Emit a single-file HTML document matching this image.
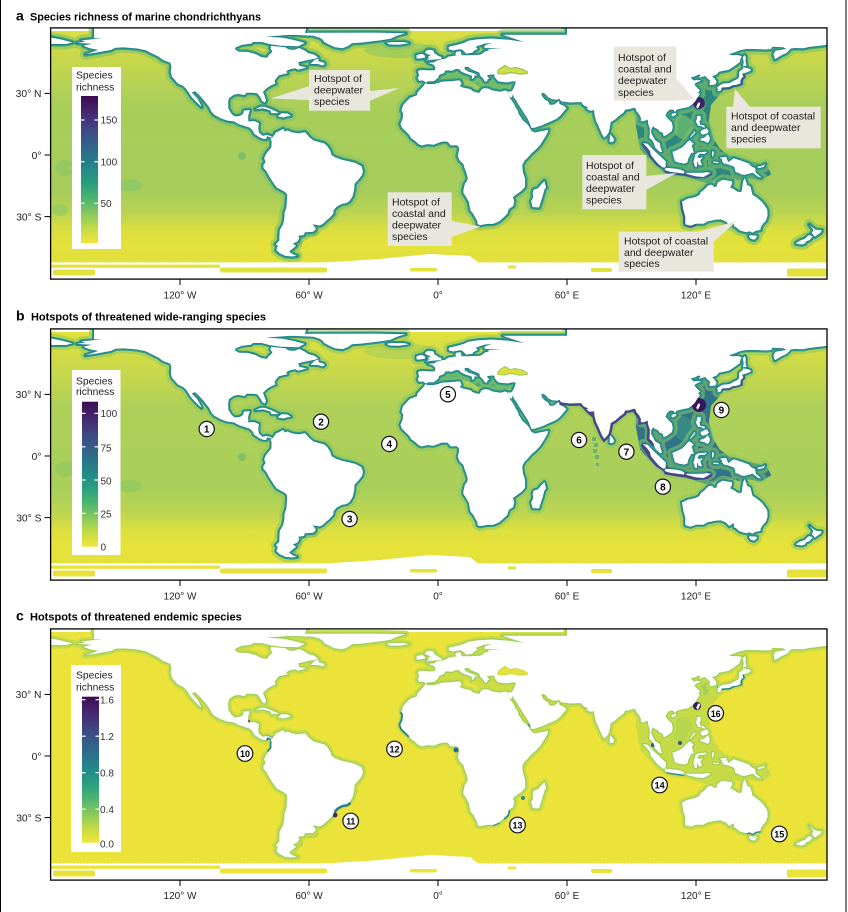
<!DOCTYPE html>
<html><head><meta charset="utf-8"><style>
html,body{margin:0;padding:0;background:#fff}
svg{display:block}
text{font-family:"Liberation Sans",Arial,sans-serif}
</style></head><body>
<svg width="848" height="912" viewBox="0 0 848 912" xmlns="http://www.w3.org/2000/svg">
<defs>
<clipPath id="cp"><rect x="51" y="28.3" width="775.7" height="250.5"/></clipPath>
<linearGradient id="gA" gradientUnits="userSpaceOnUse" x1="0" y1="31" x2="0" y2="263">
<stop offset="0" stop-color="#dcdf40"/><stop offset="0.082" stop-color="#cdd948"/><stop offset="0.211" stop-color="#b9d353"/><stop offset="0.319" stop-color="#a9ce5a"/><stop offset="0.685" stop-color="#a5cd5c"/><stop offset="0.78" stop-color="#b8d352"/><stop offset="0.849" stop-color="#d8de41"/><stop offset="0.922" stop-color="#e4e13b"/><stop offset="1" stop-color="#e1e03d"/>
</linearGradient>
<linearGradient id="gB" gradientUnits="userSpaceOnUse" x1="0" y1="31" x2="0" y2="263">
<stop offset="0" stop-color="#e2e13c"/><stop offset="0.082" stop-color="#d5dc44"/><stop offset="0.211" stop-color="#c2d64e"/><stop offset="0.319" stop-color="#aed058"/><stop offset="0.685" stop-color="#a9cf5a"/><stop offset="0.78" stop-color="#bdd551"/><stop offset="0.849" stop-color="#dbdf40"/><stop offset="0.922" stop-color="#e6e23a"/><stop offset="1" stop-color="#e4e13b"/>
</linearGradient>
<linearGradient id="vir" x1="0" y1="0" x2="0" y2="1">
<stop offset="0" stop-color="#3d0b52"/><stop offset="0.1" stop-color="#46246f"/><stop offset="0.2" stop-color="#41417f"/><stop offset="0.3" stop-color="#375a88"/><stop offset="0.4" stop-color="#2b728a"/><stop offset="0.5" stop-color="#228a88"/><stop offset="0.6" stop-color="#2aa07e"/><stop offset="0.7" stop-color="#4db56e"/><stop offset="0.8" stop-color="#86c95d"/><stop offset="0.9" stop-color="#c2db46"/><stop offset="1" stop-color="#f2e43a"/>
</linearGradient>
<pattern id="scal" x="50" y="261" width="3.4" height="5" patternUnits="userSpaceOnUse"><circle cx="1.7" cy="2.5" r="1.4" fill="#fff"/></pattern>

<g id="land" transform="translate(438,155) scale(2.15,1)">
<path vector-effect="non-scaling-stroke" d="M40,-113 L33,-115.2 L25,-116.5 L18,-115.6 L14,-114.2 L12,-112.1 L9,-110.3 L5,-108.3 L5,-105.6 L7,-104.5 L10.5,-105.9 L11.5,-104.7 L12.5,-102.7 L13,-101.4 L16,-102.1 L16.5,-103.9 L18.5,-106.1 L17.5,-108.3 L21.5,-111.2 L25,-112.1 L22,-109.8 L21.3,-107.8 L22.5,-106.9 L29.5,-106.7 L23.5,-105.9 L23.5,-104.5 L21.5,-103.3 L21,-101.9 L19.5,-100.3 L14,-99.7 L11,-99.7 L10.5,-103.9 L8.5,-103.3 L8,-100.9 L8.7,-99.6 L7,-99.1 L4.8,-98.4 L3.5,-96.4 L1.8,-95.7 L-1,-94 L-1.7,-92.6 L-4.6,-92.1 L-2.2,-90.4 L-1.2,-87.9 L-1.5,-84.8 L-4,-84.6 L-8,-85.1 L-9.3,-84 L-8.8,-79.2 L-9.5,-77 L-8.8,-74.1 L-7,-74.5 L-6,-73.1 L-5.5,-72.4 L-4.5,-73.7 L-2,-73.7 L-0.5,-76.2 L0.2,-77.5 L0.5,-80 L3,-82.1 L3.2,-84.3 L4.5,-84.6 L6.5,-84.2 L8.5,-86.1 L10,-85.6 L10.5,-83.9 L12.3,-81.9 L14.5,-80.2 L15.8,-79.2 L15.7,-75.9 L16.5,-76.7 L17.1,-78.2 L16.6,-79.4 L18.5,-79.5 L17.8,-80.5 L16,-82.3 L14.2,-83.2 L12.4,-85.9 L12.4,-87.9 L13.7,-88.2 L14.5,-87.5 L15.3,-85.9 L17.5,-84 L19.3,-82.3 L19.4,-79.7 L21,-76.4 L21.7,-73.8 L22.8,-73.4 L23.1,-75.9 L24,-76.2 L22.7,-79.4 L23.8,-80.3 L26,-80.5 L26.3,-79.7 L26.2,-78.2 L27.2,-75.5 L28,-73.6 L30.5,-72.9 L32.5,-72.6 L34.7,-73.8 L36.2,-73.4 L35.9,-71 L35.2,-67.1 L34.5,-64.4 L33.8,-63.5 L32.6,-63.6 L32.6,-61.4 L33.5,-57.8 L34.3,-57.4 L34.9,-60.7 L35.2,-57.8 L36.5,-54 L37.5,-50.1 L39,-45.2 L40.5,-40.1 L42,-35 L42.8,-30.8 L43.4,-27.1 L45,-27.3 L48.5,-29.8 L52,-33.1 L55,-36 L56.8,-39.1 L57.8,-41.7 L59.8,-46.9 L58.5,-49.3 L56.5,-51.1 L56.3,-54.4 L55.5,-53 L54,-50.5 L52,-50.1 L51.5,-52.5 L51,-54 L50,-55 L48.7,-57.8 L48,-61.4 L49,-62.2 L50.3,-60.3 L51.2,-57.8 L53,-55.7 L55.5,-55.2 L56.4,-56.3 L57.3,-53.6 L61.5,-52.5 L64,-52.7 L66.6,-52.9 L67.5,-50.1 L68.5,-48.7 L70,-47.7 L69,-46.8 L70.5,-44.2 L72.6,-44.8 L72.8,-40.1 L73.5,-34 L74.5,-29.8 L75.5,-24.6 L76.4,-20.3 L77.3,-17.3 L78.3,-19.3 L79.3,-22 L80,-27.7 L80.3,-32.9 L82.3,-35.4 L84.5,-39.5 L86.5,-42.7 L87,-45.4 L89,-45.8 L91,-47.3 L91.8,-46.8 L92.3,-43.8 L93.5,-40.7 L94.4,-37 L94.3,-34 L95.5,-33.6 L97.5,-35.4 L97.8,-30.8 L98.5,-26.7 L98.5,-21.4 L98.3,-17.1 L99.5,-15 L100.4,-11.8 L101,-7.5 L102.5,-4.3 L103.5,-2.8 L104.2,-3.2 L103.4,-8.6 L103.2,-11.8 L102.2,-13.3 L101,-14.8 L100.2,-18 L99.2,-21.8 L99.2,-25.6 L100,-28.6 L100.9,-27.1 L102.3,-25.8 L103,-23.5 L104.5,-22.2 L105,-18.6 L106.5,-20.3 L108.8,-23.9 L109.2,-27.7 L108.8,-32.5 L107.3,-35.6 L105.8,-39.3 L106.5,-42.7 L107.8,-45.4 L109.5,-45.2 L110.2,-42.9 L111,-45.2 L113.5,-46.6 L116.5,-47.9 L118.5,-51.1 L119.6,-53.6 L120.5,-56.9 L121.8,-60.7 L121,-62.7 L121.9,-64.6 L120.8,-66.7 L119.5,-69.8 L119.3,-71 L120.8,-73.1 L122.5,-74.1 L120.7,-75.3 L119,-74.5 L118,-76.4 L117.7,-77.7 L119.3,-78.5 L121.3,-80.5 L122.2,-79.9 L121.2,-77.5 L121.7,-77.4 L124.3,-79 L125.2,-76.7 L126.5,-74.5 L126.3,-70 L127.7,-70 L129.3,-71 L129.5,-73.8 L128.5,-76.7 L127.5,-78.5 L128.7,-79.7 L129.8,-80.8 L130.6,-83.2 L132.5,-84 L135.3,-85.3 L138.2,-89.4 L140.3,-92.7 L140.7,-96.4 L141.3,-98.7 L139.5,-100 L137,-99.7 L135.2,-100.7 L137.5,-102.3 L140.5,-104.8 L143.5,-106 L148.5,-105.9 L152.5,-105.5 L155,-105.9 L155.5,-108.3 L160.5,-107.8 L162,-106.1 L157,-104.3 L156,-100.9 L156.7,-95.7 L158.5,-98.1 L160,-100 L162,-101.9 L163.2,-104.3 L164,-106.5 L166,-107 L170,-106.7 L172.5,-108 L177,-109.1 L179,-109.6 L185,-111.7 L185,-135 L60,-135 L60,-120.3 L30,-120.3 Z"/>
<path vector-effect="non-scaling-stroke" d="M-5.9,-72 L-6.8,-68.9 L-9.6,-62.5 L-9.8,-59.7 L-13,-57.3 L-14.5,-54 L-16.3,-49.7 L-17,-44.2 L-16.2,-41.1 L-16.5,-36 L-17.5,-31.2 L-16.8,-27.3 L-15.5,-24.6 L-14.5,-22.5 L-13.3,-19.9 L-12.5,-16.7 L-11,-14.6 L-9,-10.7 L-7.5,-9.5 L-5,-10.9 L-2,-10.3 L1,-12.7 L2.5,-13.5 L4.5,-13.3 L5.8,-9.7 L7,-9.5 L8.5,-9.9 L9.6,-8.2 L9.8,-5.4 L9.5,-2.15 L9.2,1.1 L10,5.4 L11.8,9 L12.3,12.9 L13.2,18.2 L13.8,22.5 L13.6,25.6 L12.5,28.8 L11.8,35 L11.8,38.1 L12.8,41.1 L14.4,47.1 L14.8,53 L15.2,55.9 L16.5,59.1 L17.3,62.5 L18.3,66.2 L18.4,69.1 L19.5,70.3 L21,69.6 L23,68.9 L25.5,68.9 L26.5,68.3 L28.5,66.2 L30.5,62.5 L32.3,58.8 L32.9,54 L35,51.1 L35.5,46.2 L35.2,44.2 L34.8,42.1 L36.5,39.5 L39,35.6 L40.5,31.9 L40.5,23.5 L39.5,17.1 L39.3,12.9 L39.2,10.3 L40.3,5.6 L41.8,2.6 L43.5,-1.7 L45.5,-5.4 L47.5,-9.9 L49,-15 L50.2,-19.3 L51,-22.5 L51.3,-25.4 L50,-24.6 L48,-23.9 L45,-22.5 L43.5,-24.2 L42.8,-26.7 L42,-29.8 L40.5,-32.9 L39.3,-35 L38.5,-38.1 L37.5,-41.1 L37.2,-44.2 L36.2,-47.1 L35.6,-50.1 L34.5,-54 L33.6,-56.5 L32.6,-61.4 L32.3,-63.8 L31,-64.6 L30,-63.9 L29,-63.3 L25,-64.8 L23.5,-66.5 L21.5,-66.9 L20,-65.3 L19.5,-62.5 L18.5,-62.3 L16,-64 L15.2,-65.9 L13,-66.9 L11.2,-67.7 L10.1,-69.2 L11,-71 L10.5,-73.8 L9.8,-74.7 L7.5,-74.1 L5,-73.8 L2,-73.4 L-1,-71.4 L-2.5,-71 L-5,-71 Z"/>
<path vector-effect="non-scaling-stroke" d="M-156,-116.7 L-166,-114.6 L-164,-113.4 L-168,-112.1 L-161,-111.2 L-165,-109.3 L-162,-106.7 L-158,-105.1 L-162,-102.1 L-164,-100.7 L-158,-102.7 L-152,-105.1 L-150,-107.3 L-146,-107.6 L-140,-106.5 L-136,-104.7 L-133,-101.5 L-130,-98.4 L-128,-95.1 L-124.5,-92.3 L-124,-88.6 L-124.3,-83.2 L-123.8,-78.4 L-122.4,-75 L-121,-71.5 L-118.5,-68.9 L-117.2,-66.4 L-116,-62.5 L-114.5,-57.8 L-112,-52.1 L-110,-48.1 L-110.5,-51.1 L-112,-56.9 L-114.5,-62.5 L-113,-63.9 L-111,-59.7 L-109,-55 L-106.5,-48.1 L-105.3,-43.1 L-104,-40.1 L-101,-36.6 L-98,-34.4 L-95,-33.6 L-92.5,-30.8 L-89.5,-28.6 L-87.5,-27.3 L-86,-23.9 L-85.6,-21.4 L-84.5,-19.7 L-83,-17.6 L-81.5,-16.3 L-80,-15.9 L-79.5,-18.8 L-78,-17.8 L-77.3,-16.9 L-77.5,-18.8 L-79.5,-20.3 L-81.5,-19.1 L-83.3,-22.5 L-83.6,-26.7 L-83.3,-31.9 L-85.5,-34 L-88.2,-33.6 L-88.3,-39.1 L-87.5,-45 L-90.3,-44.4 L-90.7,-41.1 L-92,-39.3 L-94.5,-38.5 L-96,-41.1 L-97.5,-46.2 L-97.6,-53 L-97.2,-56.9 L-95,-60.1 L-93,-61.1 L-90,-59.9 L-89,-62.2 L-86,-62.2 L-84,-61.6 L-82.7,-57.8 L-81.7,-53.8 L-80.5,-52.5 L-80,-55 L-80.6,-58.8 L-81.4,-63.1 L-79.5,-67.1 L-77.5,-69.8 L-75.6,-71.5 L-76,-74.1 L-75.2,-76.7 L-74,-79.7 L-72,-80.8 L-70,-81.7 L-70.6,-83.7 L-69,-85.6 L-66.5,-86.8 L-65,-85.3 L-61,-87.6 L-64.5,-89.1 L-65,-92.7 L-61,-94.7 L-57,-96.4 L-55.8,-97.7 L-57.5,-100.3 L-60.5,-102.1 L-62,-104.5 L-64.5,-107 L-67,-105.1 L-69.5,-105.6 L-71,-107.8 L-77.5,-109.1 L-78,-106.7 L-77,-103.3 L-78.8,-99.7 L-79.5,-97.1 L-82.3,-98.1 L-85,-101.1 L-88.5,-103.1 L-92.5,-103.3 L-94.5,-105.6 L-94,-107.8 L-91,-110.3 L-87,-111.2 L-86,-113 L-82,-113 L-78,-110.7 L-73,-109.3 L-65,-108.8 L-62,-112.1 L-67,-115 L-72,-117.2 L-80,-118.4 L-70,-120 L-62,-121.5 L-60,-135 L-160,-135 L-160,-116.7 Z"/>
<path vector-effect="non-scaling-stroke" d="M-77.3,-17.1 L-76,-20.3 L-75.5,-22.5 L-74,-23.9 L-72,-26.1 L-71.3,-23.5 L-70,-24.6 L-68,-22.7 L-65,-21.6 L-62,-22.9 L-61,-20.9 L-60,-18.2 L-58,-14.6 L-55,-12.7 L-53,-11.8 L-51.5,-9 L-50,-3.9 L-49.5,0 L-48,2.15 L-44.5,4.9 L-41.5,6.2 L-38.5,7.9 L-35.5,11.2 L-34.9,16.1 L-35.3,19.9 L-37,24.6 L-38.8,28.8 L-39,35 L-39.7,41.1 L-41,45.8 L-42.5,48.1 L-44.5,48.7 L-47,51.5 L-48.5,55 L-48.7,58.8 L-50.2,62.5 L-52,65.7 L-53.5,68.9 L-55,70.5 L-58.4,69.4 L-57.2,72.1 L-56.8,74.1 L-58,76.7 L-62,77.4 L-62.3,80 L-65,80.8 L-64.5,83.2 L-65.3,86.4 L-67.5,88.6 L-66,90.8 L-68,94.4 L-69.2,96.4 L-68.5,98 L-66.5,100.3 L-65.5,100.9 L-68,101.5 L-71,100.9 L-73.5,98.4 L-75.2,95.1 L-74.5,90.8 L-75.5,89.4 L-73.8,85.6 L-73.8,81.6 L-73.6,75 L-72,68.9 L-71.5,63.5 L-71.4,57.8 L-70.5,52.1 L-70.2,42.1 L-70.3,38.9 L-71.5,36.6 L-75,32.5 L-76.3,28.8 L-78.5,21.4 L-79.8,16.1 L-81.2,12.9 L-81.2,9.7 L-80.2,7.1 L-80.9,3.2 L-80,-1.1 L-79,-3.9 L-77.5,-7.5 L-77.4,-13.9 L-77.9,-16.1 Z"/>
<path vector-effect="non-scaling-stroke" d="M113.5,46.2 L114,54 L115,61.6 L115,68 L115.1,69.4 L117.5,70.7 L120,68.7 L123.5,68.7 L125.5,66.2 L127,65.7 L129,64.7 L131.5,64.4 L134,66.6 L135.5,70.3 L136.2,68.9 L137.5,67.1 L137.8,71.7 L138.5,71.9 L139.5,74.1 L140.8,75.9 L143.5,77.2 L144.8,76.2 L146.3,77.7 L147.8,75.7 L150,75 L150.1,72.4 L151.3,68.5 L152.5,65.9 L153.3,60.7 L153.2,55 L152.5,52.1 L150.8,47.1 L149.3,44.2 L148,42.1 L146.3,39.7 L145.6,34 L145.3,31.5 L143.7,29.8 L143.5,27.3 L142.5,22.9 L141.9,26.7 L141.5,31.9 L141.3,36 L140.8,37 L139.3,36.6 L137.5,34 L135.9,32.3 L136.8,28.8 L136.8,26.1 L135.5,25.8 L132.5,24.6 L131,26.3 L130,27.7 L129.5,31.7 L128.2,31.7 L127.5,29.8 L126,30 L125,31.9 L123.6,35 L122.3,37 L121.5,40.1 L119.5,42.1 L117,43.3 L115.5,44.2 L114.2,46 Z
M144.7,80.3 L148.3,80.6 L148.2,82.7 L147,84.8 L145.5,83.7 L144.7,81.5 Z
M172.7,69.6 L174.4,72.9 L175.8,74.8 L178.5,75.3 L177.9,77.9 L176.8,79.2 L175.3,81.8 L174.6,80 L173.8,77.9 L174.6,75.2 L174,73.3 Z
M172.7,80 L174.3,81.3 L173.3,83.9 L172.7,85.3 L171.2,86.4 L170.7,88.5 L169.2,89.5 L166.5,88.6 L166.8,87.6 L168.3,85.6 L170.7,83.7 L172,80.8 Z
M43.3,46.2 L44,52.1 L47,52.5 L48.7,41.1 L49.6,34 L50.3,32.9 L49.5,26.1 L48,29.4 L46.5,33.3 L44.5,34.6 L44,38.1 L44.3,42.1 Z
M79.8,-13.3 L80,-20.9 L81,-18.6 L81.9,-15.6 L81.6,-13.5 L80.6,-12.7 Z
M-5.7,-94.4 L-3,-95.2 L1.4,-95.9 L1.7,-98 L0.3,-98.9 L-0.5,-100.3 L-1.6,-101.6 L-2,-103.9 L-1.8,-104.2 L-3.5,-105.1 L-5,-105.1 L-6.2,-102.7 L-5,-100.9 L-3.2,-99.7 L-4.6,-98.7 L-4.2,-97.4 L-5.2,-96.6 L-3.3,-96.2 L-4.5,-95.8 Z
M-6,-97.4 L-6.2,-99.7 L-7.5,-101.3 L-10,-99.9 L-10,-97.1 L-9.8,-96.4 L-8,-96.6 Z
M-24,-112.1 L-22,-112.9 L-16,-113 L-13.5,-111.8 L-18,-110.2 L-22.5,-110.5 Z
M-73,-120.5 L-66,-120 L-58,-119.3 L-55,-117.2 L-53.5,-115 L-53,-113 L-50.5,-110.3 L-48,-107.8 L-44.5,-106.7 L-42,-108.8 L-40,-111.7 L-35,-112.5 L-27,-114.6 L-22,-116.2 L-20,-118.4 L-18,-120 L-15,-121.8 L-30,-122.4 L-60,-122.2 L-73,-120.9 Z
M-85,-45.8 L-82.5,-48.3 L-80.5,-48.3 L-77.5,-45.8 L-74.2,-42.5 L-75,-41.9 L-77.5,-41.9 L-78,-44.6 L-81.5,-46.6 L-84,-46 Z
M-74.4,-38.9 L-72.7,-41.9 L-70,-41.5 L-68.4,-39.3 L-70.5,-38.5 L-71.6,-37.5 L-74.2,-38.3 Z
M-59.3,-91 L-57.5,-95.1 L-55.6,-96.6 L-55.5,-93.7 L-53,-92.3 L-52.7,-90.8 L-53.5,-89.5 L-56,-91 Z
M130,-63.5 L131.5,-64.4 L132,-67.5 L134,-67.7 L135.5,-68 L137,-69.8 L139,-70.3 L140.8,-71.9 L140.6,-73.8 L141,-76.4 L142,-78.4 L141.5,-81.3 L143.3,-82.4 L145.5,-84.3 L145.3,-86.1 L142,-87.7 L141.6,-85.6 L140.2,-83.7 L140,-81.3 L140,-79.2 L139.8,-76.9 L138.6,-75.2 L137.2,-74 L136.5,-72.8 L135,-71.7 L132.5,-71.4 L131,-69.6 L129.8,-67.7 L130.2,-65.3 Z
M142,-88.6 L143.5,-89.4 L143,-93.7 L143.2,-97.1 L142.7,-100 L141.7,-97.7 L142.2,-93 L141.9,-89.4 Z
M120.1,-48.1 L121,-52.5 L122,-52.1 L121.6,-49.1 L120.8,-46.2 Z
M108.7,-41.1 L110.5,-42.3 L111,-41.3 L109.6,-38.5 L108.6,-39.1 Z
M120.5,-39.1 L122.2,-39.1 L122.2,-35 L121.6,-33.6 L122,-30.2 L124,-29.4 L124,-26.9 L122.5,-28.8 L121,-29.2 L120.6,-30.8 L119.8,-34 L120.3,-35 Z
M122,-16.1 L124,-17.6 L125.5,-20.9 L126.5,-17.1 L126.2,-13.9 L125.4,-12 L124,-13.7 L122,-14.8 Z
M122.5,-24.6 L125,-26.7 L126,-23.5 L125,-21.4 L123,-20.3 L122,-22.5 Z
M117.2,-17.8 L119.5,-24.2 L119.7,-22.5 L117.5,-17.1 Z
M109,-3.2 L109.6,2.15 L110.2,6.2 L111.7,7.5 L114.5,8.6 L116,7.5 L116.5,3.2 L117.8,-2.15 L119,-2.15 L118,-9.7 L119,-11.2 L117,-14.8 L116,-13.3 L115,-10.5 L113.5,-7.5 L111.5,-5.4 L110,-3.9 Z
M95.3,-12 L97.5,-11.2 L100.4,-4.7 L103.8,2.15 L106,6.45 L105.8,12.5 L104.5,12.5 L102.3,8.6 L100.8,4.9 L99,0 L98.6,-3.9 L97.3,-7.5 Z
M105.3,14.6 L106,12.7 L108.3,13.3 L111,13.7 L113,14.8 L114.6,16.5 L114.5,18.6 L111,17.6 L108,16.7 L106.4,15.9 Z
M115,17.8 L119,17.8 L123,17.8 L125,17.1 L127,17.8 L125,20.3 L123.5,22 L120,21.4 L116,19.1 Z
M119.5,11.8 L118.8,6.45 L119.8,-1.1 L121,-2.6 L124.5,-3.4 L125.1,-3 L124,-1.1 L121.5,-1.1 L120.7,1.7 L121.5,3.2 L123.3,1.9 L122,5.4 L122.8,10.3 L121.3,10.1 L120.6,6 L120.4,12 Z
M127.5,-3.9 L128.5,-3.2 L128,1.1 L127.5,1.7 Z
M128,6.45 L130.8,7.1 L130,8.2 L128,7.7 Z
M131,2.6 L134,1.7 L135,7.1 L137.5,3.2 L141,5.6 L144.5,8.4 L145.8,11.4 L147.5,13.1 L147.8,17.6 L150.5,22.5 L149,22 L146.3,17.8 L143.8,19.3 L142.5,19.9 L141,19.5 L139.2,17.3 L138.5,17.8 L137.8,11.8 L135,9.5 L133,8.6 L132,6 L132.3,4.7 Z
M148.5,11.8 L151,10.5 L152.2,9 L151.5,12 L149,13.3 Z
M-185,-111.7 L-179,-111 L-173,-111 L-170,-112.6 L-175,-115.4 L-180,-117.5 L-185,-117.5 Z"/>
</g>

<path id="seasia" transform="translate(438,155) scale(2.15,1)" d="M92,-29.8 L92,-46.2 L108,-48.1 L118,-54 L121,-65.3 L119,-75.9 L121,-80.8 L126,-79.2 L127,-72.4 L129,-68.9 L131,-67.1 L131,-59.7 L127,-50.1 L126,-34 L128,-17.1 L131,-6.45 L135,0 L141,4.3 L148,7.5 L153,10.7 L155,19.3 L150,25.6 L145,23.5 L141,25.6 L137,23.5 L134,22.5 L129,25.6 L126,28.8 L121,25.6 L115,21.4 L110,20.3 L105,16.1 L101,9.7 L97,1.1 L94,-6.45 Z"/>
<path id="med" transform="translate(438,155) scale(2.15,1)" d="M-5.5,-72.4 L0,-72.4 L10,-75 L12,-75.9 L15,-74.1 L20,-67.1 L30,-64.4 L36,-68.9 L36,-74.1 L27,-75.9 L23,-80 L18,-80.8 L13,-87.9 L9,-86.4 L3,-84.8 L-1,-75.9 L-5.5,-73.3 Z"/>
<path id="bsea" vector-effect="non-scaling-stroke" transform="translate(438,155) scale(2.15,1)" d="M27.7,-82.4 L28,-81.3 L31,-81 L33.5,-82.4 L35.5,-81.9 L38,-80.8 L41.5,-81.5 L41.5,-83.2 L39.5,-85.6 L37.5,-86.7 L36,-87.5 L33.5,-86.4 L32.5,-87.9 L31,-89.5 L30,-87.9 L28.8,-86.4 L28,-84.3 Z"/>
<path id="indo" fill="none" vector-effect="non-scaling-stroke" transform="translate(438,155) scale(2.15,1)" d="M95.3,-12 L99,0 L102.3,8.6 L105.8,12.5 L106.4,15.9 L111,17.6 L114.5,18.6 L120,21.4 L125,20.3 L127,17.7"/>
<path id="jpn" fill="none" vector-effect="non-scaling-stroke" transform="translate(438,155) scale(2.15,1)" d="M129.8,-67.7 L132,-67.5 L135.5,-68 L137,-69.8 L140.8,-71.9 L141,-76.4 L142,-78.4 L141.5,-81.3"/>
<path id="ausw" fill="none" vector-effect="non-scaling-stroke" transform="translate(438,155) scale(2.15,1)" d="M113.5,46.2 L114,54 L115,61.6 L115,68 L117.5,70.7 L120,68.7"/>
<path id="india" fill="none" vector-effect="non-scaling-stroke" transform="translate(438,155) scale(2.15,1)" d="M56.4,-56.3 L57.3,-53.6 L61.5,-52.5 L66.6,-52.9 L68.5,-48.7 L70.5,-44.2 L72.8,-40.1 L73.5,-34 L74.5,-29.8 L75.5,-24.6 L76.4,-20.3 L77.3,-17.3 L78.3,-19.3 L79.3,-22 L80,-27.7 L80.3,-32.9 L82.3,-35.4 L84.5,-39.5 L86.5,-42.7 L87,-45.4 L89,-45.8 L91,-47.3 L92.3,-43.8 L94.4,-37 L94.3,-34 L97.5,-35.4 L98.5,-26.7 L98.3,-17.1 L100.4,-11.8"/>
<path id="pata" fill="none" vector-effect="non-scaling-stroke" transform="translate(438,155) scale(2.15,1)" d="M-56.8,74.1 L-58,76.7 L-62,77.4 L-65,80.8 L-65.3,86.4 L-67.5,88.6 L-68,94.4 L-68.5,98"/>

<g id="bottom">
<rect x="50" y="261.2" width="778" height="4.6" fill="url(#scal)"/>
<rect x="50" y="262.7" width="778" height="1.6" fill="#fff"/>
<path d="M300,264 L380,259 L430,254 L470,256 L480,264 Z" fill="#fff"/>
</g>
<g id="blobs">
<rect x="50" y="264.6" width="170" height="3.2"/>
<rect x="53" y="269.5" width="42" height="6" rx="2"/>
<rect x="220" y="267.5" width="107" height="5" rx="2"/>
<rect x="410" y="268" width="27" height="3.5" rx="1.5"/>
<rect x="508" y="265.5" width="8" height="3"/>
<rect x="591" y="268" width="21" height="4" rx="1.5"/>
<rect x="787" y="268.5" width="40" height="8" rx="2"/>
</g>
</defs>

<rect width="848" height="912" fill="#fff"/>
<line x1="0.5" y1="0" x2="0.5" y2="912" stroke="#000" stroke-width="1"/>
<line x1="846" y1="0" x2="846" y2="912" stroke="#000" stroke-width="1"/>

<!-- ================= PANEL A ================= -->
<g clip-path="url(#cp)">
<rect x="50" y="31" width="778" height="232" fill="url(#gA)"/>
<use href="#med" fill="#5fb472"/>
<ellipse cx="400" cy="50" rx="36" ry="8" fill="#8bc764" opacity="0.6"/>
<ellipse cx="130" cy="185" rx="12" ry="6" fill="#8ec663" opacity="0.8"/>
<ellipse cx="112" cy="172" rx="6" ry="4" fill="#8ec663" opacity="0.8"/>
<ellipse cx="65" cy="168" rx="10" ry="8" fill="#8ec663" opacity="0.7"/>
<ellipse cx="60" cy="210" rx="8" ry="6" fill="#8ec663" opacity="0.6"/>
<ellipse cx="242" cy="156" rx="4" ry="4" fill="#7fc067"/>
<use href="#seasia" fill="#2b877f"/>
<ellipse cx="683" cy="127" rx="9" ry="12" fill="#69b96d" opacity="0.8"/>
<use href="#pata" stroke="#5aad76" stroke-width="9" opacity="0.8"/>
<use href="#land" fill="none" stroke="#86c465" stroke-width="11" stroke-linejoin="round" opacity="0.6"/>
<use href="#land" fill="none" stroke="#3aa37a" stroke-width="5" stroke-linejoin="round"/>
<use href="#land" fill="none" stroke="#21808a" stroke-width="2.2" stroke-linejoin="round"/>
<use href="#indo" stroke="#375b8c" stroke-width="4.5"/>
<use href="#jpn" stroke="#375b8c" stroke-width="4.5"/>
<use href="#ausw" stroke="#375b8c" stroke-width="4"/>
<ellipse cx="699" cy="103" rx="6" ry="6" fill="#3a2466"/>
<use href="#land" fill="#fff"/>
<use href="#bsea" fill="#d6dd43" stroke="#8cc764" stroke-width="1.2"/>
<use href="#bottom"/>
<use href="#blobs" fill="#e3e13c"/>
</g>
<rect x="50.6" y="27.9" width="776.4" height="251.2" fill="none" stroke="#000" stroke-width="1.3"/>

<!-- callouts panel a -->
<g fill="#e9e7dd">
<rect x="309" y="70" width="61" height="40.7"/>
<polygon points="309.5,86 309.5,100 270.5,98.5"/>
<polygon points="369.5,91 369.5,101 399.5,88"/>
<rect x="387.7" y="192.3" width="64" height="53.7"/>
<polygon points="451.5,221 451.5,237 480.5,226.5"/>
<rect x="613.7" y="46.7" width="62.6" height="54"/>
<polygon points="676,78.3 676,100.5 694.7,99.5"/>
<rect x="726.3" y="106.7" width="94.4" height="41.6"/>
<polygon points="733,107 750,107 735,89"/>
<rect x="582.3" y="155" width="64" height="54.3"/>
<polygon points="646,176 646,190 676.5,173"/>
<rect x="618.7" y="231.7" width="95" height="40"/>
<polygon points="698,232 713.5,242 737,221"/>
</g>
<g font-size="10.5" fill="#1c1c1c">
<text x="314" y="82">Hotspot of</text>
<text x="314" y="93.5">deepwater</text>
<text x="314" y="105">species</text>
<text x="392" y="205.5">Hotspot of</text>
<text x="392" y="217">coastal and</text>
<text x="392" y="228.5">deepwater</text>
<text x="392" y="240">species</text>
<text x="618" y="61">Hotspot of</text>
<text x="618" y="72.6">coastal and</text>
<text x="618" y="84.2">deepwater</text>
<text x="618" y="95.8">species</text>
<text x="731" y="119.4">Hotspot of coastal</text>
<text x="731" y="131">and deepwater</text>
<text x="731" y="142.7">species</text>
<text x="586" y="168.8">Hotspot of</text>
<text x="586" y="180.4">coastal and</text>
<text x="586" y="192">deepwater</text>
<text x="586" y="203.6">species</text>
<text x="624" y="244.4">Hotspot of coastal</text>
<text x="624" y="255.8">and deepwater</text>
<text x="624" y="267.2">species</text>
</g>

<!-- legend a -->
<rect x="72" y="67" width="49" height="182" fill="#fff"/>
<text x="76" y="78.5" font-size="10.3" fill="#222">Species</text>
<text x="76" y="90.7" font-size="10.3" fill="#222">richness</text>
<rect x="81" y="96" width="17" height="147" fill="url(#vir)"/>
<g stroke="#fff" stroke-width="1.2">
<line x1="81" y1="120" x2="84.5" y2="120"/><line x1="94.5" y1="120" x2="98" y2="120"/>
<line x1="81" y1="161.7" x2="84.5" y2="161.7"/><line x1="94.5" y1="161.7" x2="98" y2="161.7"/>
<line x1="81" y1="203.3" x2="84.5" y2="203.3"/><line x1="94.5" y1="203.3" x2="98" y2="203.3"/>
</g>
<g font-size="10" fill="#333">
<text x="100.5" y="123.7">150</text>
<text x="100.5" y="165.4">100</text>
<text x="100.5" y="207">50</text>
</g>

<!-- ================= PANEL B ================= -->
<g transform="translate(0,301)">
<g clip-path="url(#cp)">
<rect x="50" y="31" width="778" height="232" fill="url(#gB)"/>
<use href="#med" fill="#4aa877"/>
<ellipse cx="400" cy="50" rx="36" ry="8" fill="#9ccc5d" opacity="0.5"/>
<ellipse cx="130" cy="185" rx="12" ry="6" fill="#8ec663" opacity="0.7"/>
<ellipse cx="65" cy="168" rx="10" ry="8" fill="#8ec663" opacity="0.6"/>
<ellipse cx="242" cy="156" rx="4" ry="4" fill="#7fc067"/>
<g fill="#3f9a86" opacity="0.6">
<rect x="592" y="136" width="4" height="4"/><rect x="594" y="142" width="4" height="4"/><rect x="593" y="148" width="4" height="4"/><rect x="595" y="154" width="4" height="4"/><rect x="596" y="162" width="3" height="3"/>
</g>
<use href="#seasia" fill="#2f7489"/>
<ellipse cx="683" cy="127" rx="9" ry="12" fill="#3b8f86" opacity="0.8"/>
<use href="#pata" stroke="#64b173" stroke-width="9" opacity="0.7"/>
<use href="#land" fill="none" stroke="#8dc862" stroke-width="10" stroke-linejoin="round" opacity="0.55"/>
<use href="#land" fill="none" stroke="#2d9886" stroke-width="4.2" stroke-linejoin="round"/>
<use href="#land" fill="none" stroke="#23808a" stroke-width="1.8" stroke-linejoin="round"/>
<use href="#india" stroke="#43478a" stroke-width="5"/>
<use href="#indo" stroke="#43478a" stroke-width="5.5"/>
<use href="#jpn" stroke="#3c5a8c" stroke-width="4"/>
<ellipse cx="699" cy="104" rx="7" ry="7" fill="#34185a"/>
<use href="#land" fill="#fff"/>
<use href="#bsea" fill="#dadf41" stroke="#9ccc5d" stroke-width="1"/>
<use href="#bottom"/>
<use href="#blobs" fill="#e6e23a"/>
</g>
<rect x="50.6" y="27.9" width="776.4" height="251.2" fill="none" stroke="#000" stroke-width="1.3"/>
</g>

<!-- legend b -->
<rect x="72" y="370" width="48.5" height="185" fill="#fff"/>
<text x="76" y="384.7" font-size="10.3" fill="#222">Species</text>
<text x="76" y="394.9" font-size="10.3" fill="#222">richness</text>
<rect x="82" y="401.7" width="16" height="145" fill="url(#vir)"/>
<g stroke="#fff" stroke-width="1.2">
<line x1="82" y1="413.4" x2="85.5" y2="413.4"/><line x1="94.5" y1="413.4" x2="98" y2="413.4"/>
<line x1="82" y1="446.8" x2="85.5" y2="446.8"/><line x1="94.5" y1="446.8" x2="98" y2="446.8"/>
<line x1="82" y1="480" x2="85.5" y2="480"/><line x1="94.5" y1="480" x2="98" y2="480"/>
<line x1="82" y1="513.4" x2="85.5" y2="513.4"/><line x1="94.5" y1="513.4" x2="98" y2="513.4"/>
</g>
<g font-size="10" fill="#333">
<text x="100.5" y="417">100</text>
<text x="100.5" y="451.5">75</text>
<text x="100.5" y="484.6">50</text>
<text x="100.5" y="517.6">25</text>
<text x="100.5" y="550.4">0</text>
</g>

<!-- ================= PANEL C ================= -->
<g transform="translate(0,601)">
<g clip-path="url(#cp)">
<rect x="50" y="31" width="778" height="232" fill="#ebe23a"/>
<use href="#med" fill="#d2dc45"/>
<use href="#seasia" fill="#c6da48"/>
<ellipse cx="702" cy="84" rx="8" ry="11" fill="#9acb5f" opacity="0.9"/>
<ellipse cx="683" cy="130" rx="10" ry="14" fill="#b2d450" opacity="0.8"/>
<use href="#pata" stroke="#9ccb5d" stroke-width="10" opacity="0.8"/>
<use href="#land" fill="none" stroke="#c8dc46" stroke-width="7" stroke-linejoin="round"/>
<use href="#land" fill="none" stroke="#a3ce5a" stroke-width="2.8" stroke-linejoin="round"/>
<use href="#jpn" stroke="#23808a" stroke-width="3"/>
<g fill="none" stroke-linejoin="round" transform="translate(438,155) scale(2.15,1)">
<path vector-effect="non-scaling-stroke" stroke="#2b8a88" stroke-width="4" d="M-17,-44.2 L-16.2,-41.1 L-16.5,-36 L-17.5,-31.2 L-16.8,-27.3 L-15.5,-24.6 L-13.3,-19.9"/>
<path vector-effect="non-scaling-stroke" stroke="#2a7f8a" stroke-width="5" d="M-41,45.8 L-42.5,48.1 L-44.5,48.7 L-47,51.5 L-48.5,55"/>
<path vector-effect="non-scaling-stroke" stroke="#2a8a88" stroke-width="3.5" d="M30.5,62.5 L32.3,58.8 L32.9,54"/>
<path vector-effect="non-scaling-stroke" stroke="#3a9a84" stroke-width="3" d="M25.5,68.9 L28.5,66.2"/>
<path vector-effect="non-scaling-stroke" stroke="#2a8a88" stroke-width="3" d="M143.5,77.2 L144.8,76.2 L146.3,77.7 L147.8,75.7 L150,75"/>
<path vector-effect="non-scaling-stroke" stroke="#2a8a88" stroke-width="3.5" d="M-80,-15.9 L-79.5,-18.8 L-78,-17.8 L-77.3,-16.9 L-77.4,-13.9 L-77.5,-7.5 L-79,-3.9"/>
<path vector-effect="non-scaling-stroke" stroke="#2a8a88" stroke-width="3" d="M106.4,15.9 L111,17.6 L114.5,18.6"/>
</g>
<ellipse cx="697" cy="105" rx="4" ry="4" fill="#3c1d5c"/>
<circle cx="456" cy="149" r="2.5" fill="#1f6f8a"/>
<circle cx="335" cy="214" r="2.5" fill="#3d2a6a"/>
<circle cx="248" cy="120.7" r="2" fill="#3a1f60"/>
<circle cx="680" cy="142" r="2" fill="#3c4f8d"/>
<circle cx="653" cy="144" r="2" fill="#3c4f8d"/>
<circle cx="523" cy="197" r="2" fill="#2a8a88"/>
<circle cx="530" cy="124" r="1.8" fill="#2a8a88"/>
<use href="#land" fill="#fff"/>
<use href="#bsea" fill="#e6e13c" stroke="#c8dc46" stroke-width="1"/>
<use href="#bottom"/>
<use href="#blobs" fill="#ebe33a"/>
</g>
<rect x="50.6" y="27.9" width="776.4" height="251.2" fill="none" stroke="#000" stroke-width="1.3"/>
</g>

<!-- legend c -->
<rect x="71" y="665" width="50" height="187" fill="#fff"/>
<text x="76" y="678.7" font-size="10.3" fill="#222">Species</text>
<text x="76" y="690.7" font-size="10.3" fill="#222">richness</text>
<rect x="82" y="696.7" width="17" height="146" fill="url(#vir)"/>
<g stroke="#fff" stroke-width="1.2">
<line x1="82" y1="699.7" x2="85.5" y2="699.7"/><line x1="95.5" y1="699.7" x2="99" y2="699.7"/>
<line x1="82" y1="736.2" x2="85.5" y2="736.2"/><line x1="95.5" y1="736.2" x2="99" y2="736.2"/>
<line x1="82" y1="772.7" x2="85.5" y2="772.7"/><line x1="95.5" y1="772.7" x2="99" y2="772.7"/>
<line x1="82" y1="809.2" x2="85.5" y2="809.2"/><line x1="95.5" y1="809.2" x2="99" y2="809.2"/>
</g>
<g font-size="10" fill="#333">
<text x="100" y="703.7">1.6</text>
<text x="100" y="740.2">1.2</text>
<text x="100" y="776.7">0.8</text>
<text x="100" y="813.2">0.4</text>
<text x="100" y="847.7">0.0</text>
</g>

<!-- titles -->
<text x="16" y="20.5" font-size="14" font-weight="bold" fill="#000">a</text>
<text x="30" y="20.5" font-size="10.6" font-weight="bold" fill="#000" textLength="231" lengthAdjust="spacingAndGlyphs">Species richness of marine chondrichthyans</text>
<text x="16" y="320.5" font-size="14" font-weight="bold" fill="#000">b</text>
<text x="31" y="320.5" font-size="10.6" font-weight="bold" fill="#000" textLength="235" lengthAdjust="spacingAndGlyphs">Hotspots of threatened wide-ranging species</text>
<text x="16" y="620.5" font-size="14" font-weight="bold" fill="#000">c</text>
<text x="30" y="620.5" font-size="10.6" font-weight="bold" fill="#000" textLength="211.7" lengthAdjust="spacingAndGlyphs">Hotspots of threatened endemic species</text>

<!-- axes ticks & labels -->
<g stroke="#000" stroke-width="1">
<line x1="44.5" y1="93.4" x2="50.5" y2="93.4"/><line x1="44.5" y1="155" x2="50.5" y2="155"/><line x1="44.5" y1="216.6" x2="50.5" y2="216.6"/>
<line x1="44.5" y1="394.4" x2="50.5" y2="394.4"/><line x1="44.5" y1="456" x2="50.5" y2="456"/><line x1="44.5" y1="517.6" x2="50.5" y2="517.6"/>
<line x1="44.5" y1="694.4" x2="50.5" y2="694.4"/><line x1="44.5" y1="756" x2="50.5" y2="756"/><line x1="44.5" y1="817.6" x2="50.5" y2="817.6"/>
<line x1="180" y1="279" x2="180" y2="285"/><line x1="309" y1="279" x2="309" y2="285"/><line x1="438" y1="279" x2="438" y2="285"/><line x1="567" y1="279" x2="567" y2="285"/><line x1="696" y1="279" x2="696" y2="285"/>
<line x1="180" y1="580" x2="180" y2="586"/><line x1="309" y1="580" x2="309" y2="586"/><line x1="438" y1="580" x2="438" y2="586"/><line x1="567" y1="580" x2="567" y2="586"/><line x1="696" y1="580" x2="696" y2="586"/>
<line x1="180" y1="880" x2="180" y2="886"/><line x1="309" y1="880" x2="309" y2="886"/><line x1="438" y1="880" x2="438" y2="886"/><line x1="567" y1="880" x2="567" y2="886"/><line x1="696" y1="880" x2="696" y2="886"/>
</g>
<g font-size="10.3" fill="#222" text-anchor="end">
<text x="41.5" y="97.2">30° N</text><text x="41.5" y="158.8">0°</text><text x="41.5" y="220.4">30° S</text>
<text x="41.5" y="398.2">30° N</text><text x="41.5" y="459.8">0°</text><text x="41.5" y="521.4">30° S</text>
<text x="41.5" y="698.2">30° N</text><text x="41.5" y="759.8">0°</text><text x="41.5" y="821.4">30° S</text>
</g>
<g font-size="10" fill="#222" text-anchor="middle">
<text x="180" y="298.5">120° W</text><text x="309" y="298.5">60° W</text><text x="438" y="298.5">0°</text><text x="567" y="298.5">60° E</text><text x="696" y="298.5">120° E</text>
<text x="180" y="599.5">120° W</text><text x="309" y="599.5">60° W</text><text x="438" y="599.5">0°</text><text x="567" y="599.5">60° E</text><text x="696" y="599.5">120° E</text>
<text x="180" y="899">120° W</text><text x="309" y="899">60° W</text><text x="438" y="899">0°</text><text x="567" y="899">60° E</text><text x="696" y="899">120° E</text>
</g>

<!-- numbered markers -->
<g fill="#fff" stroke="#111" stroke-width="1.2">
<circle cx="206.7" cy="429" r="7.6"/><circle cx="321" cy="421.7" r="7.6"/><circle cx="349.6" cy="519" r="7.6"/>
<circle cx="389.3" cy="444" r="7.6"/><circle cx="447.9" cy="394.3" r="7.6"/><circle cx="579" cy="440" r="7.6"/>
<circle cx="626.4" cy="451.7" r="7.6"/><circle cx="662.9" cy="486.7" r="7.6"/><circle cx="721.4" cy="410" r="7.6"/>
<circle cx="245" cy="753.5" r="7.8"/><circle cx="350.7" cy="821" r="7.8"/><circle cx="394.5" cy="749" r="7.8"/>
<circle cx="517.5" cy="825" r="7.8"/><circle cx="659.6" cy="785" r="7.8"/><circle cx="779.3" cy="834" r="7.8"/>
<circle cx="715.7" cy="713.3" r="7.8"/>
</g>
<g font-size="10" font-weight="bold" fill="#000" text-anchor="middle">
<text x="206.7" y="432.6">1</text><text x="321" y="425.3">2</text><text x="349.6" y="522.6">3</text>
<text x="389.3" y="447.6">4</text><text x="447.9" y="397.9">5</text><text x="579" y="443.6">6</text>
<text x="626.4" y="455.3">7</text><text x="662.9" y="490.3">8</text><text x="721.4" y="413.6">9</text>
</g>
<g font-size="9.5" font-weight="bold" fill="#000" text-anchor="middle">
<text x="245" y="757" textLength="10" lengthAdjust="spacingAndGlyphs">10</text>
<text x="350.7" y="824.5" textLength="9" lengthAdjust="spacingAndGlyphs">11</text>
<text x="394.5" y="752.5" textLength="10" lengthAdjust="spacingAndGlyphs">12</text>
<text x="517.5" y="828.5" textLength="10" lengthAdjust="spacingAndGlyphs">13</text>
<text x="659.6" y="788.5" textLength="10" lengthAdjust="spacingAndGlyphs">14</text>
<text x="779.3" y="837.5" textLength="10" lengthAdjust="spacingAndGlyphs">15</text>
<text x="715.7" y="716.8" textLength="10" lengthAdjust="spacingAndGlyphs">16</text>
</g>
</svg>
</body></html>
